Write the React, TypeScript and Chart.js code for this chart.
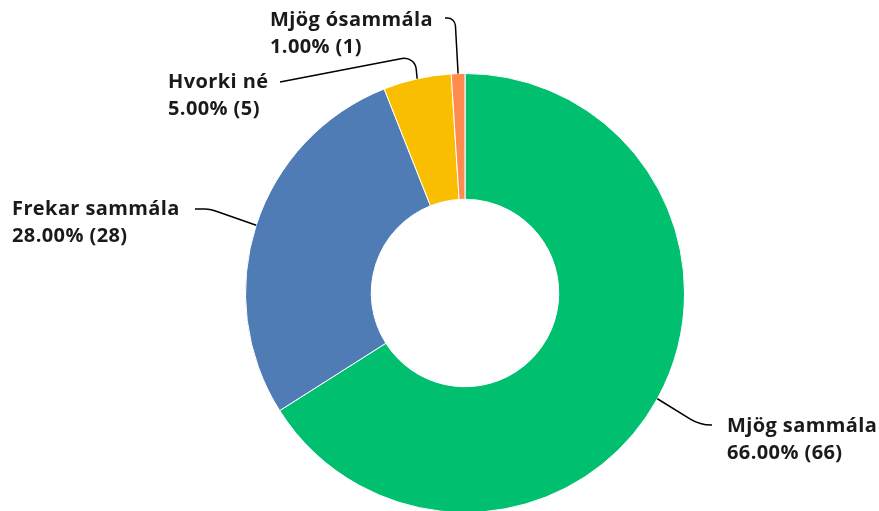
import React, { useEffect, useRef } from "react";
import { Chart, registerables } from "chart.js";

Chart.register(...registerables);

const categories = ["Mjög sammála", "Frekar sammála", "Hvorki né", "Mjög ósammála"];
const counts = [66, 28, 5, 1];
const percents = [66.0, 28.0, 5.0, 1.0];
const colors = ["#00BF6F", "#507CB6", "#F9BE00", "#FF8B4F"];

// label layout relative to chart centre: text anchor (left x, first baseline), corner of leader, end of leader, corner radius
const labelLayout = [
  { tx: 262, ty: 139, kx: 235, ky: 132, ex: 247, ey: 132, r: 40 },
  { tx: -453, ty: -78, kx: -255, ky: -84, ex: -270, ey: -84, r: 30 },
  { tx: -297, ty: -205, kx: -50, ky: -237, ex: -185, ey: -211, r: 12 },
  { tx: -195, ty: -267, kx: -10, ky: -275, ex: -20, ey: -275, r: 8 },
];

const FONT = "bold 20px 'Open Sans', Roboto, sans-serif";

const labelPlugin = {
  id: "leaderLabels",
  afterDatasetsDraw(chart: any) {
    const ctx = chart.ctx;
    const meta = chart.getDatasetMeta(0);
    meta.data.forEach((arc: any, i: number) => {
      const { x: cx, y: cy, startAngle, endAngle, outerRadius } = arc.getProps(
        ["x", "y", "startAngle", "endAngle", "outerRadius"],
        true
      );
      const mid = (startAngle + endAngle) / 2;
      const px = cx + Math.cos(mid) * outerRadius;
      const py = cy + Math.sin(mid) * outerRadius;
      const L = labelLayout[i];
      ctx.save();
      ctx.strokeStyle = "#000";
      ctx.lineWidth = 1.5;
      ctx.beginPath();
      ctx.moveTo(px, py);
      ctx.arcTo(cx + L.kx, cy + L.ky, cx + L.ex, cy + L.ey, L.r);
      ctx.lineTo(cx + L.ex, cy + L.ey);
      ctx.stroke();
      ctx.fillStyle = "#1a1a1a";
      ctx.font = FONT;
      try { (ctx as any).letterSpacing = "0.4px"; } catch (e) {}
      ctx.textAlign = "left";
      ctx.textBaseline = "alphabetic";
      ctx.fillText(categories[i], cx + L.tx, cy + L.ty);
      ctx.fillText(
        percents[i].toFixed(2) + "% (" + counts[i] + ")",
        cx + L.tx,
        cy + L.ty + 27
      );
      ctx.restore();
    });
  },
};

export default function App() {
  const ref = useRef<HTMLCanvasElement | null>(null);
  useEffect(() => {
    if (!ref.current) return;
    const chart = new Chart(ref.current, {
      type: "doughnut",
      data: {
        labels: categories,
        datasets: [
          {
            data: counts,
            backgroundColor: colors,
            borderColor: "#ffffff",
            borderWidth: 1,
          },
        ],
      },
      options: {
        responsive: false,
        animation: false,
        cutout: "42.7%",
        layout: { padding: { top: 73, bottom: 0, left: 245, right: 194 } },
        plugins: {
          legend: { display: false },
          tooltip: { enabled: false },
        },
      },
      plugins: [labelPlugin],
    });
    return () => chart.destroy();
  }, []);
  return (
    <div style={{ position: "fixed", left: 0, top: 0, width: 879, height: 511, overflow: "hidden", background: "#fff" }}>
      <canvas ref={ref} width={879} height={513} style={{ display: "block" }} />
    </div>
  );
}
